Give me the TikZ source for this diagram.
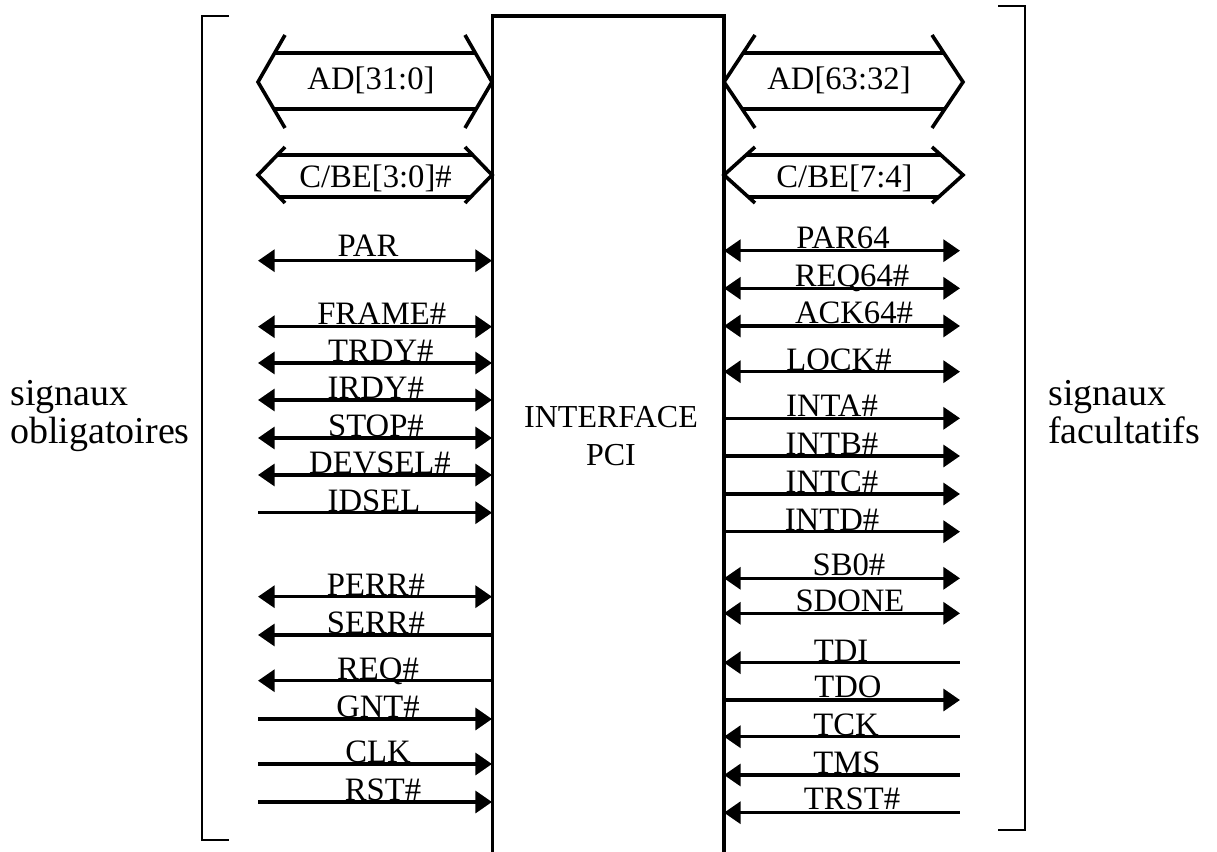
\documentclass[tikz,border=0pt]{standalone}
\usepackage{fontspec}
\setmainfont{Liberation Serif}
\usetikzlibrary{arrows.meta}
\tikzset{
  sig/.style={line width=2.6pt},
  bi/.style={{Triangle[length=12.5pt,width=16.5pt]}-{Triangle[length=12.5pt,width=16.5pt]}},
  toR/.style={-{Triangle[length=12.5pt,width=16.5pt]}},
  toL/.style={{Triangle[length=12.5pt,width=16.5pt]}-},
  lbl/.style={anchor=base,inner sep=0pt,font=\fontsize{24.5}{28}\selectfont},
  side/.style={anchor=base west,inner sep=0pt,font=\fontsize{28.5}{33}\selectfont},
  bus/.style={line width=2.7pt,line join=miter},
  brk/.style={line width=1.2pt},
}
\begin{document}
\begin{tikzpicture}[x=0.75pt,y=-0.75pt]
\useasboundingbox (0,0) rectangle (1217,852);
\clip (0,0) rectangle (1217,852);
% main box
\coordinate (bxbl) at (492.5,870);
\coordinate (bxtl) at (492.5,16);
\coordinate (bxtr) at (724,16);
\coordinate (bxbr) at (724,870);
\draw[line width=2.7pt] (bxbl) -- (bxtl) -- (bxtr) -- (bxbr);
\node[lbl,font=\fontsize{24}{28}\selectfont] (if1) at (611,427) {INTERFACE};
\node[lbl,font=\fontsize{24}{28}\selectfont] (if2) at (611,465) {PCI};
% brackets
\coordinate (lb1) at (229,16); \coordinate (lb2) at (202,16);
\coordinate (lb3) at (202,840); \coordinate (lb4) at (229,840);
\draw[brk] (lb1) -- (lb2) -- (lb3) -- (lb4);
\coordinate (rb1) at (998,6); \coordinate (rb2) at (1025,6);
\coordinate (rb3) at (1025,830); \coordinate (rb4) at (998,830);
\draw[brk] (rb1) -- (rb2) -- (rb3) -- (rb4);
% side texts
\node[side] (s1) at (10,405) {signaux};
\node[side] (s2) at (10,443) {obligatoires};
\node[side] (s3) at (1048,405) {signaux};
\node[side] (s4) at (1048,443) {facultatifs};
% buses left
\draw[bus] (285,35) -- (258,82) -- (285,128);
\draw[bus] (465,35) -- (492,82) -- (465,128);
\draw[bus] (274.7,53) -- (475.3,53);
\draw[bus] (273.8,109) -- (476.2,109);
\node[lbl] (ad1) at (371,90) {AD[31:0]};
\draw[bus] (285,147) -- (258,175) -- (285,203);
\draw[bus] (465,147) -- (492,175) -- (465,203);
\draw[bus] (277.3,155) -- (472.7,155);
\draw[bus] (279.2,197) -- (470.8,197);
\node[lbl] (cbe1) at (375.5,188) {C/BE[3:0]\#};
% buses right
\draw[bus] (755,35) -- (724,82) -- (755,128);
\draw[bus] (932,35) -- (963,82) -- (932,128);
\draw[bus] (743,53) -- (944,53);
\draw[bus] (742.2,109) -- (944.8,109);
\node[lbl] (ad2) at (839,90) {AD[63:32]};
\draw[bus] (755,147) -- (724,175) -- (755,203);
\draw[bus] (932,147) -- (963,175) -- (932,203);
\draw[bus] (746,155) -- (941,155);
\draw[bus] (748.4,197) -- (938.6,197);
\node[lbl] (cbe2) at (844.5,188) {C/BE[7:4]};
% left signals
\foreach \y/\t/\lx/\s/\o [count=\i] in {
  260.7/PAR/368/bi/4,
  326.7/FRAME\#/381.7/bi/2.5,
  363/TRDY\#/380.8/bi/1.5,
  400/IRDY\#/375.8/bi/1.5,
  438/STOP\#/376/bi/1.5,
  475/DEVSEL\#/380/bi/1.5,
  512.7/IDSEL/374/toR/1.5,
  596.7/PERR\#/376/bi/1.5,
  635/SERR\#/376/toL/1.5,
  680.7/REQ\#/378/toL/1,
  719/GNT\#/378/toR/1.5,
  764/CLK/378/toR/1.5,
  802/RST\#/383/toR/1.5}{
  \coordinate (la\i) at (258,\y);
  \coordinate (lz\i) at (492,\y);
  \draw[sig,\s] (la\i) -- (lz\i);
  \node[lbl] (lt\i) at (\lx,\y-\o) {\t};
}
% right signals
\foreach \y/\t/\lx/\s/\o [count=\i] in {
  250.7/PAR64/843/bi/2,
  288.3/REQ64\#/852/bi/2,
  326/ACK64\#/854/bi/2,
  371.7/LOCK\#/839/bi/1.5,
  418.3/INTA\#/832/toR/1.5,
  456/INTB\#/832/toR/1.5,
  494/INTC\#/832/toR/1.5,
  531.7/INTD\#/832/toR/1.5,
  578.3/SB0\#/849/bi/3,
  613.3/SDONE/850/bi/1.5,
  662.7/TDI/841/toL/1.5,
  700/TDO/848/toR/3,
  736.7/TCK/846/toL/1.5,
  775/TMS/847/toL/1.5,
  812.7/TRST\#/852/toL/3}{
  \coordinate (ra\i) at (724,\y);
  \coordinate (rz\i) at (960,\y);
  \draw[sig,\s] (ra\i) -- (rz\i);
  \node[lbl] (rt\i) at (\lx,\y-\o) {\t};
}
\end{tikzpicture}
\end{document}
